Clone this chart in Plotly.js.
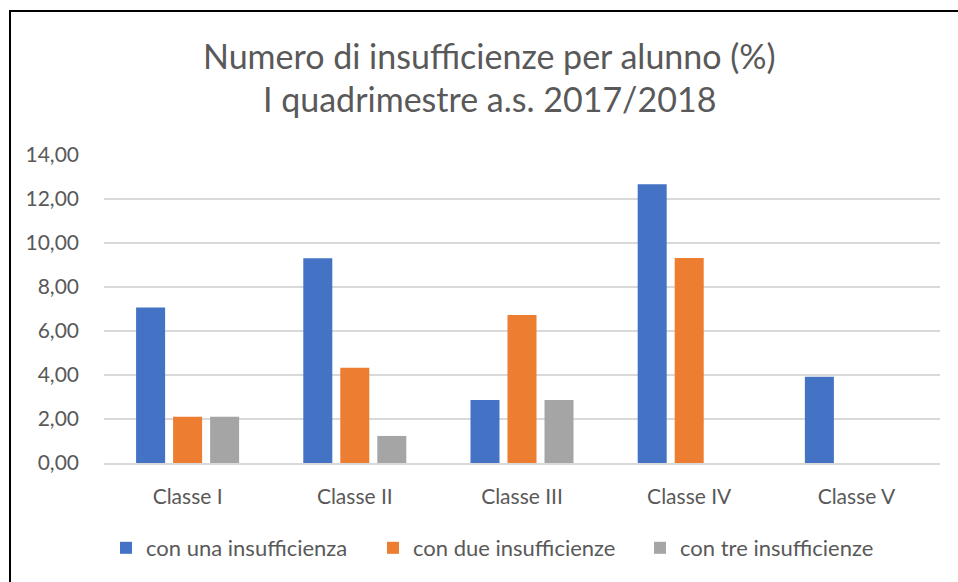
<!DOCTYPE html>
<html>
<head>
<meta charset="utf-8">
<script src="https://cdn.plot.ly/plotly-3.0.1.min.js"></script>
<style>
  body { margin: 0; background: #fff; }
  #wrap { position: relative; width: 958px; height: 582px; }
  #chart { width: 958px; height: 582px; }
  #frame {
    position: absolute; left: 9px; top: 10px; right: 0; bottom: 0;
    border-top: 2px solid #000; border-left: 2px solid #000;
    pointer-events: none;
  }
</style>
</head>
<body>
<div id="wrap">
  <div id="chart"></div>
  <div id="frame"></div>
</div>
<script>
// categorie e serie
var classi = ["Classe I", "Classe II", "Classe III", "Classe IV", "Classe V"];
var unaInsuff = [7.07, 9.31, 2.86, 12.67, 3.92];
var dueInsuff = [2.10, 4.33, 6.73, 9.32, 0];
var treInsuff = [2.10, 1.23, 2.86, 0, 0];

var seriesNames = ["con una insufficienza", "con due insufficienze", "con tre insufficienze"];
var colors = ["#4472C4", "#ED7D31", "#A5A5A5"];

var textColor = "#595959";
var font = "Lato, 'Open Sans', sans-serif";

var data = [unaInsuff, dueInsuff, treInsuff].map(function (vals, i) {
    return {
        x: classi,
        y: vals,
        name: seriesNames[i],
        type: "bar",
        marker: { color: colors[i] },
        hoverinfo: "x+y+name"
    };
});

var layout = {
    width: 958,
    height: 582,
    margin: { l: 104, r: 18, t: 155, b: 119 },
    paper_bgcolor: "#fff",
    plot_bgcolor: "#fff",
    separators: ",.",
    font: { family: font, color: textColor, size: 21 },
    barmode: "group",
    bargap: 0.336,
    bargroupgap: 0.216,
    showlegend: true,
    legend: {
        orientation: "h",
        x: 0.0024, xanchor: "left",
        y: -0.276, yanchor: "middle",
        entrywidth: 222,
        font: { size: 22, color: textColor },
        traceorder: "normal"
    },
    xaxis: {
        showgrid: false,
        showline: true,
        linecolor: "#D9D9D9",
        linewidth: 1.5,
        ticks: "",
        ticklabelstandoff: 14,
        tickfont: { size: 21, color: textColor }
    },
    yaxis: {
        range: [0, 14],
        dtick: 2,
        tickformat: ".2f",
        showgrid: true,
        gridcolor: "#D9D9D9",
        gridwidth: 1.5,
        zeroline: false,
        showline: false,
        ticks: "",
        ticklabelstandoff: 24,
        tickfont: { size: 21, color: textColor }
    },
    annotations: [
        {
            text: "Numero di insufficienze per alunno (%)",
            xref: "paper", yref: "paper",
            x: 0.4617, y: 1.322,
            xanchor: "center", yanchor: "middle",
            showarrow: false,
            font: { size: 34, color: textColor, family: font }
        },
        {
            text: "I quadrimestre a.s. 2017/2018",
            xref: "paper", yref: "paper",
            x: 0.4617, y: 1.182,
            xanchor: "center", yanchor: "middle",
            showarrow: false,
            font: { size: 34, color: textColor, family: font }
        }
    ]
};

Plotly.newPlot("chart", data, layout, { displayModeBar: false, staticPlot: true });
</script>
</body>
</html>
